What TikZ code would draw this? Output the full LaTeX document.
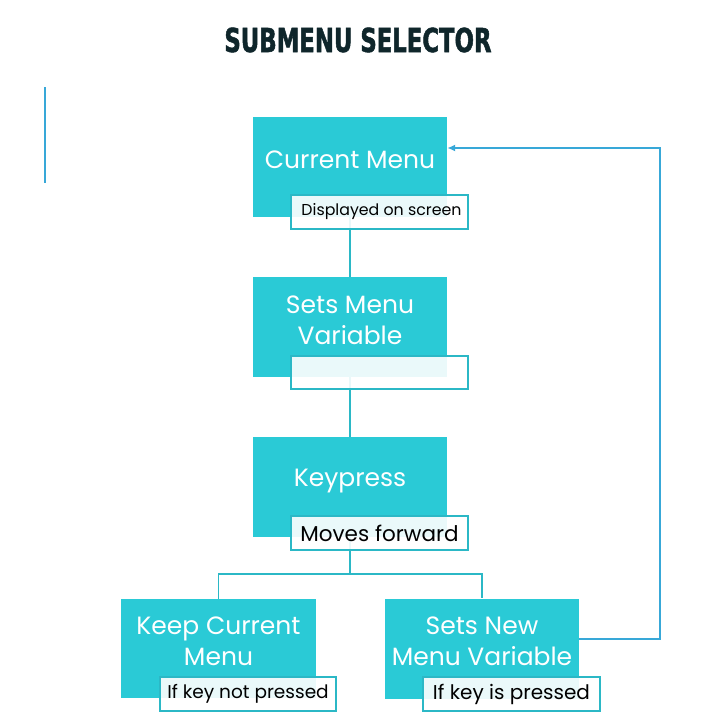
\documentclass[tikz,border=0pt]{standalone}
\usepackage{fontspec}
\setmainfont{Poppins}
\newfontfamily\titlefont[FakeStretch=0.69,FakeBold=1.5]{DejaVu Sans}
\usetikzlibrary{arrows.meta}
\definecolor{boxcyan}{HTML}{2ACAD6}
\definecolor{linecyan}{HTML}{2BB8C6}
\definecolor{backblue}{HTML}{38A8D8}
\definecolor{titledark}{HTML}{0F262B}
\tikzset{
  menubox/.style={fill=boxcyan, minimum width=194pt, minimum height=100pt, inner sep=0pt},
  boxtext/.style={text=white, align=center, font=\fontsize{25}{31}\selectfont},
  notebox/.style={draw=linecyan, line width=1.6pt, fill=white, fill opacity=0.9, text opacity=1,
    minimum width=177pt, minimum height=34pt, inner sep=0pt},
  link/.style={draw=linecyan, line width=1.8pt},
}
\begin{document}
\begin{tikzpicture}[x=1pt,y=-1pt]
    \useasboundingbox (0,0) rectangle (720,720);
    
    % title and side bar
    \node[text=titledark, font=\titlefont\bfseries\fontsize{33}{33}\selectfont] (title) at (358,40) {SUBMENU SELECTOR};
    \draw[backblue, line width=2pt] (45,87) -- (45,183);
    
    % menu boxes
    \node[menubox] (b1) at (350,167) {};
    \node[menubox] (b2) at (350,327) {};
    \node[menubox] (b3) at (350,487) {};
    \node[menubox, minimum width=195pt, minimum height=99pt] (b4) at (218.5,648.5) {};
    \node[menubox] (b5) at (482,648.5) {};
    
    % connectors
    \coordinate (fork) at (350,574);
    \coordinate (ret) at (660,148);
    \draw[link] (b1.south) -- (b2.north);
    \draw[link] (b2.south) -- (b3.north);
    \draw[link] (b3.south) -- (fork) -| (b4.north);
    \draw[link] (fork) -| (b5.north);
    \draw[backblue, line width=1.8pt, -{Latex[length=8pt,width=7pt]}] ([yshift=9.5pt]b5.east) -| (ret) -- ([yshift=19pt]b1.east);
    
    % texts in the boxes
    \node[boxtext] (t1) at (350,160) {Current Menu};
    \node[boxtext] (t2) at (350,320) {Sets Menu\\Variable};
    \node[boxtext] (t3) at (350,481) {Keypress};
    \node[boxtext] (t4) at (218.5,641) {Keep Current\\Menu};
    \node[boxtext] (t5) at (482,641) {Sets New\\Menu Variable};
    
    % notes
    \node[notebox, font=\fontsize{15.8}{16}\selectfont] (n1) at (379.5,212) {\hspace{4pt}Displayed on screen};
    \node[notebox, minimum height=33pt] (n2) at (379.5,372.5) {};
    \node[notebox, font=\fontsize{21.5}{22}\selectfont] (n3) at (379.5,533) {Moves forward};
    \node[notebox, minimum width=176pt, font=\fontsize{18.5}{19}\selectfont] (n4) at (248,694) {If key not pressed};
    \node[notebox, font=\fontsize{20}{20}\selectfont] (n5) at (511.5,694) {If key is pressed};
\end{tikzpicture}
\end{document}
